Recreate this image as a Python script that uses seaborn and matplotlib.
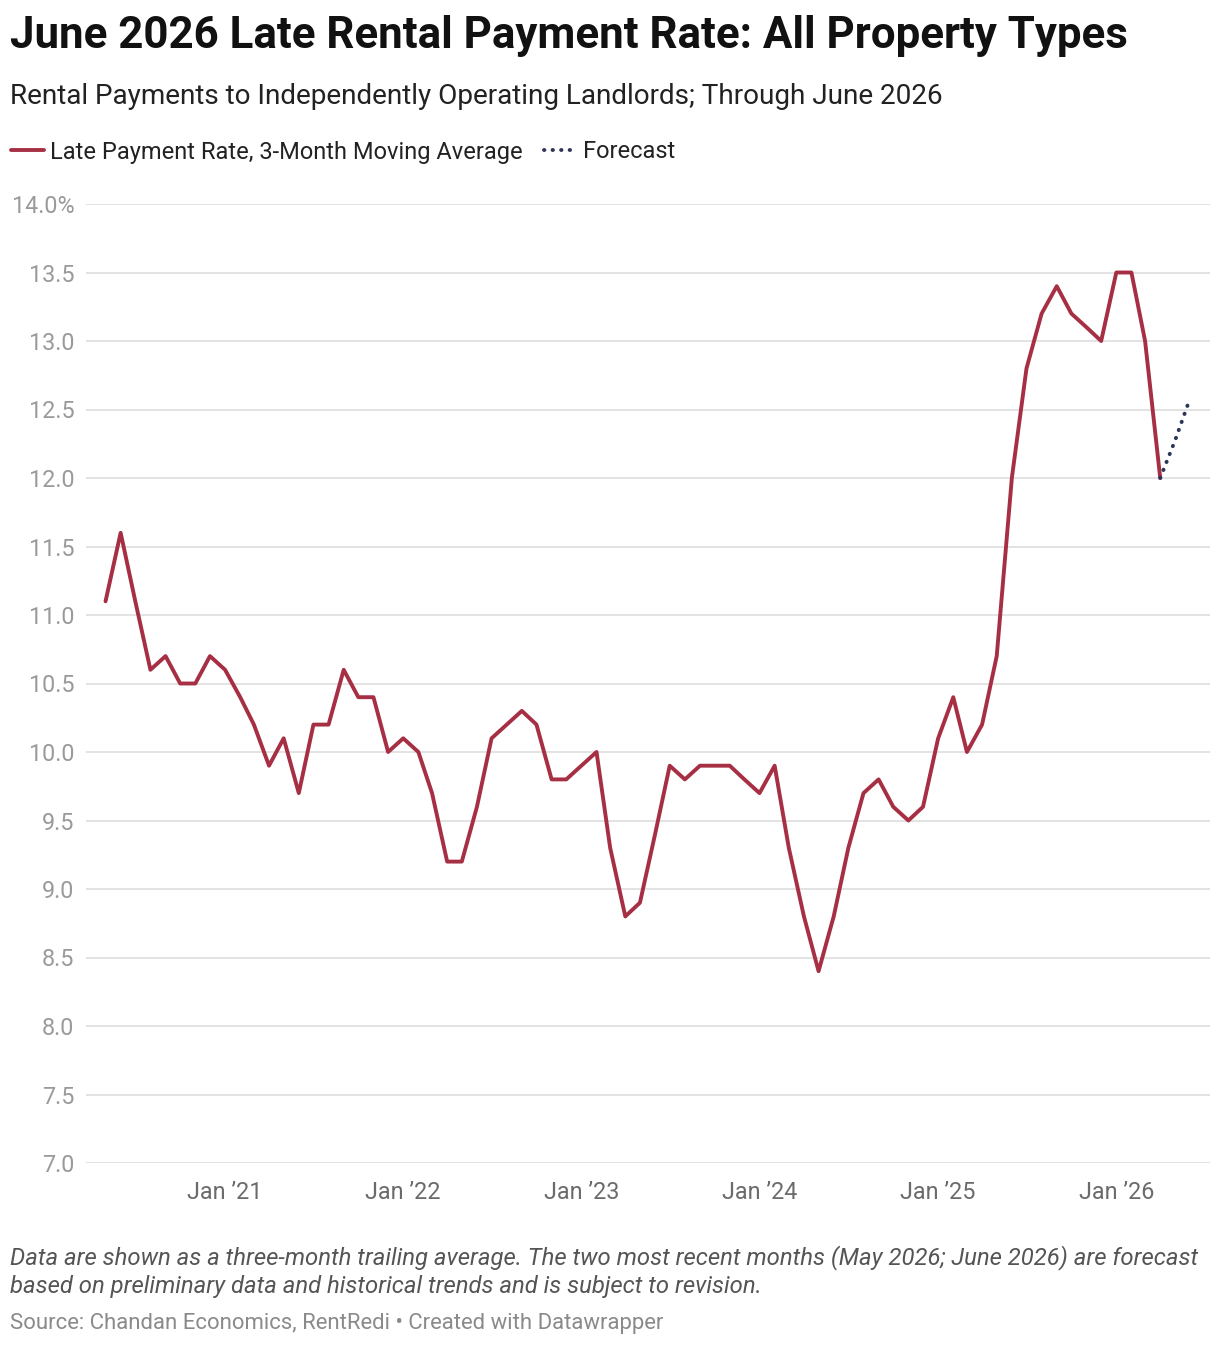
import seaborn as sns
import pandas as pd
import matplotlib.pyplot as plt

### data (3-month moving average, %)

months = pd.date_range('2020-05-01', '2026-04-01', freq='MS')
late_rate = [11.1, 11.6, 11.1, 10.6, 10.7, 10.5, 10.5, 10.7,
             10.6, 10.4, 10.2, 9.9, 10.1, 9.7, 10.2, 10.2, 10.6, 10.4, 10.4, 10.0,
             10.1, 10.0, 9.7, 9.2, 9.2, 9.6, 10.1, 10.2, 10.3, 10.2, 9.8, 9.8,
             9.9, 10.0, 9.3, 8.8, 8.9, 9.4, 9.9, 9.8, 9.9, 9.9, 9.9, 9.8,
             9.7, 9.9, 9.3, 8.8, 8.4, 8.8, 9.3, 9.7, 9.8, 9.6, 9.5, 9.6,
             10.1, 10.4, 10.0, 10.2, 10.7, 12.0, 12.8, 13.2, 13.4, 13.2, 13.1, 13.0,
             13.5, 13.5, 13.0, 12.0]
forecast_months = pd.to_datetime(['2026-04-01', '2026-05-01', '2026-06-01'])
forecast_rate = [12.0, 12.27, 12.58]

y_ticks = [7.0, 7.5, 8.0, 8.5, 9.0, 9.5, 10.0, 10.5, 11.0, 11.5, 12.0, 12.5, 13.0, 13.5, 14.0]
x_ticks = pd.to_datetime(['2021-01-01', '2022-01-01', '2023-01-01', '2024-01-01', '2025-01-01', '2026-01-01'])
x_labels = ['Jan \u201921', 'Jan \u201922', 'Jan \u201923', 'Jan \u201924', 'Jan \u201925', 'Jan \u201926']

df = pd.DataFrame({'month': months, 'rate': late_rate})
df_fc = pd.DataFrame({'month': forecast_months, 'rate': forecast_rate})

sns.set_style('white')
plt.rcParams['font.family'] = ['Roboto', 'DejaVu Sans']

red = '#a62f44'
navy = '#2c3558'

fig = plt.figure(figsize=(12.2, 13.46), dpi=100)
H = 1346
W = 1220
ax = fig.add_axes([86 / W, 1 - 1163 / H, (1210 - 86) / W, (1163 - 204) / H])

sns.lineplot(data=df, x='month', y='rate', ax=ax, color=red, linewidth=2.8,
             label='Late Payment Rate, 3-Month Moving Average')
sns.lineplot(data=df_fc, x='month', y='rate', ax=ax, color=navy, linewidth=2.8,
             linestyle=(0, (0.1, 2.1)), label='Forecast')
ax.lines[1].set_dash_capstyle('round')

ax.set_xlim(pd.Timestamp('2020-03-22'), pd.Timestamp('2026-07-12'))
ax.set_ylim(7.0, 14.0)
ax.set_xlabel('')
ax.set_ylabel('')

ax.set_yticks(y_ticks)
ax.set_yticklabels([f'{v:.1f}%' if v == 14.0 else f'{v:.1f}' for v in y_ticks])
ax.set_xticks(x_ticks)
ax.set_xticklabels(x_labels)

ax.grid(axis='y', color='#e3e3e3', linewidth=1.4)
ax.grid(axis='x', visible=False)
for s in ax.spines.values():
    s.set_visible(False)
ax.tick_params(axis='y', length=0, pad=8.5, labelsize=16.8, labelcolor='#9a9a9a')
ax.tick_params(axis='x', length=0, pad=13, labelsize=16.8, labelcolor='#6b6b6b')

### legend

leg = ax.legend(loc='center left', bbox_to_anchor=(2 / W, 1 - 152 / H), bbox_transform=fig.transFigure,
                ncol=2, frameon=False, fontsize=17, handlelength=1.4, handletextpad=0.25,
                columnspacing=0.9, borderaxespad=0, labelcolor='#222222')
leg.get_lines()[1].set_dash_capstyle('round')

### titles and notes

fig.text(10 / W, 1 - 36 / H, 'June 2026 Late Rental Payment Rate: All Property Types',
         fontsize=31.6, fontweight='bold', color='#111111', va='center', ha='left')
fig.text(10 / W, 1 - 97 / H, 'Rental Payments to Independently Operating Landlords; Through June 2026',
         fontsize=20.1, color='#222222', va='center', ha='left')
fig.text(10 / W, 1 - 1258 / H,
         'Data are shown as a three-month trailing average. The two most recent months (May 2026; June 2026) are forecast',
         fontsize=17.2, style='italic', color='#555555', va='center', ha='left')
fig.text(10 / W, 1 - 1286 / H,
         'based on preliminary data and historical trends and is subject to revision.',
         fontsize=17.2, style='italic', color='#555555', va='center', ha='left')
fig.text(10 / W, 1 - 1323 / H, 'Source: Chandan Economics, RentRedi \u2022 Created with Datawrapper',
         fontsize=15.9, color='#8a8a8a', va='center', ha='left')

plt.savefig('out.png', dpi=100)
